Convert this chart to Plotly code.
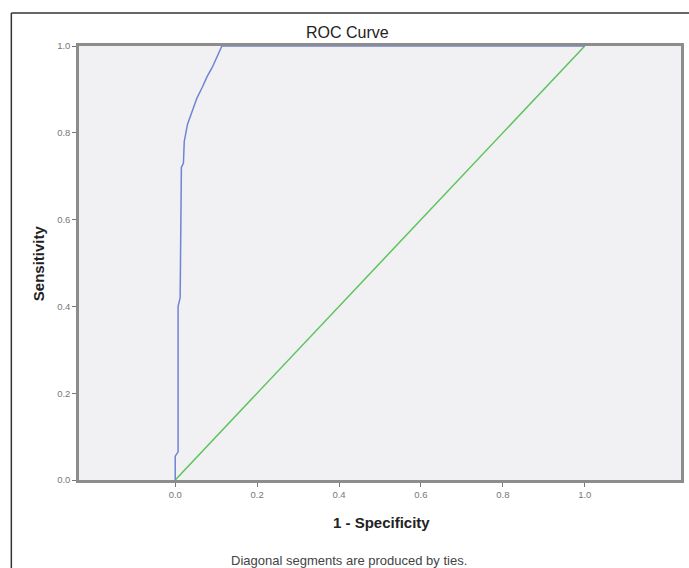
import plotly.graph_objects as go

# ROC curve data
fpr = [0.0, 0.0, 0.007, 0.007, 0.012, 0.015, 0.020, 0.022, 0.030, 0.041, 0.053, 0.066, 0.078, 0.090, 0.102, 0.114, 1.0]
tpr = [0.0, 0.055, 0.065, 0.40, 0.42, 0.72, 0.73, 0.78, 0.82, 0.85, 0.88, 0.905, 0.93, 0.95, 0.975, 1.0, 1.0]
ref_x = [0.0, 1.0]
ref_y = [0.0, 1.0]
tick_vals = [0.0, 0.2, 0.4, 0.6, 0.8, 1.0]
tick_text = ["0.0", "0.2", "0.4", "0.6", "0.8", "1.0"]

W, H = 689, 568
ML, MR, MT, MB = 79, 5, 46, 88
pw = W - ML - MR
ph = H - MT - MB

def px(x):
    return (x - ML) / pw

def py(y):
    return (H - MB - y) / ph

fig = go.Figure()
fig.add_trace(go.Scatter(x=ref_x, y=ref_y, mode="lines",
                         line=dict(color="#5cc45c", width=1.5), showlegend=False))
fig.add_trace(go.Scatter(x=fpr, y=tpr, mode="lines",
                         line=dict(color="#6f84d4", width=1.5), showlegend=False))

axis_common = dict(
    showgrid=False, zeroline=False, showline=True, linecolor="#8c8c8c", linewidth=2.5,
    mirror=True, ticks="outside", ticklen=4, tickcolor="#777",
    tickfont=dict(family="Liberation Sans, Arial", size=9.5, color="#777"),
)
fig.update_xaxes(range=[-0.235, 1.235], tickvals=tick_vals, ticktext=tick_text, **axis_common)
fig.update_yaxes(range=[0, 1], tickvals=tick_vals, ticktext=tick_text, **axis_common)

fig.update_layout(
    width=W, height=H,
    margin=dict(l=ML, r=MR, t=MT, b=MB),
    plot_bgcolor="#f1f1f3", paper_bgcolor="white",
    font=dict(family="Liberation Sans, Arial"),
    showlegend=False,
)

def note(text, x, y, size, color, angle=0):
    return dict(text=text, x=px(x), y=py(y), xref="paper", yref="paper",
                xanchor="center", yanchor="middle", showarrow=False,
                textangle=angle, font=dict(size=size, color=color))

ann = [
    note("ROC Curve", 349, 32, 16, "#222"),
    note("<b>1 - Specificity</b>", 383, 522, 15, "#222"),
    note("<b>Sensitivity</b>", 38, 263, 15, "#222", -90),
    note("Diagonal segments are produced by ties.", 350, 560, 13, "#444"),
]
fig.update_layout(annotations=ann)

# outer frame (left and top edges visible)
fig.add_shape(type="line", xref="paper", yref="paper", x0=px(11), x1=px(11), y0=py(13), y1=py(600),
              line=dict(color="#333", width=1.5))
fig.add_shape(type="line", xref="paper", yref="paper", x0=px(11), x1=px(700), y0=py(13), y1=py(13),
              line=dict(color="#333", width=1.5))

fig.write_html("out.html", config={"displayModeBar": False},
               post_script="document.body.style.margin='0px';")
